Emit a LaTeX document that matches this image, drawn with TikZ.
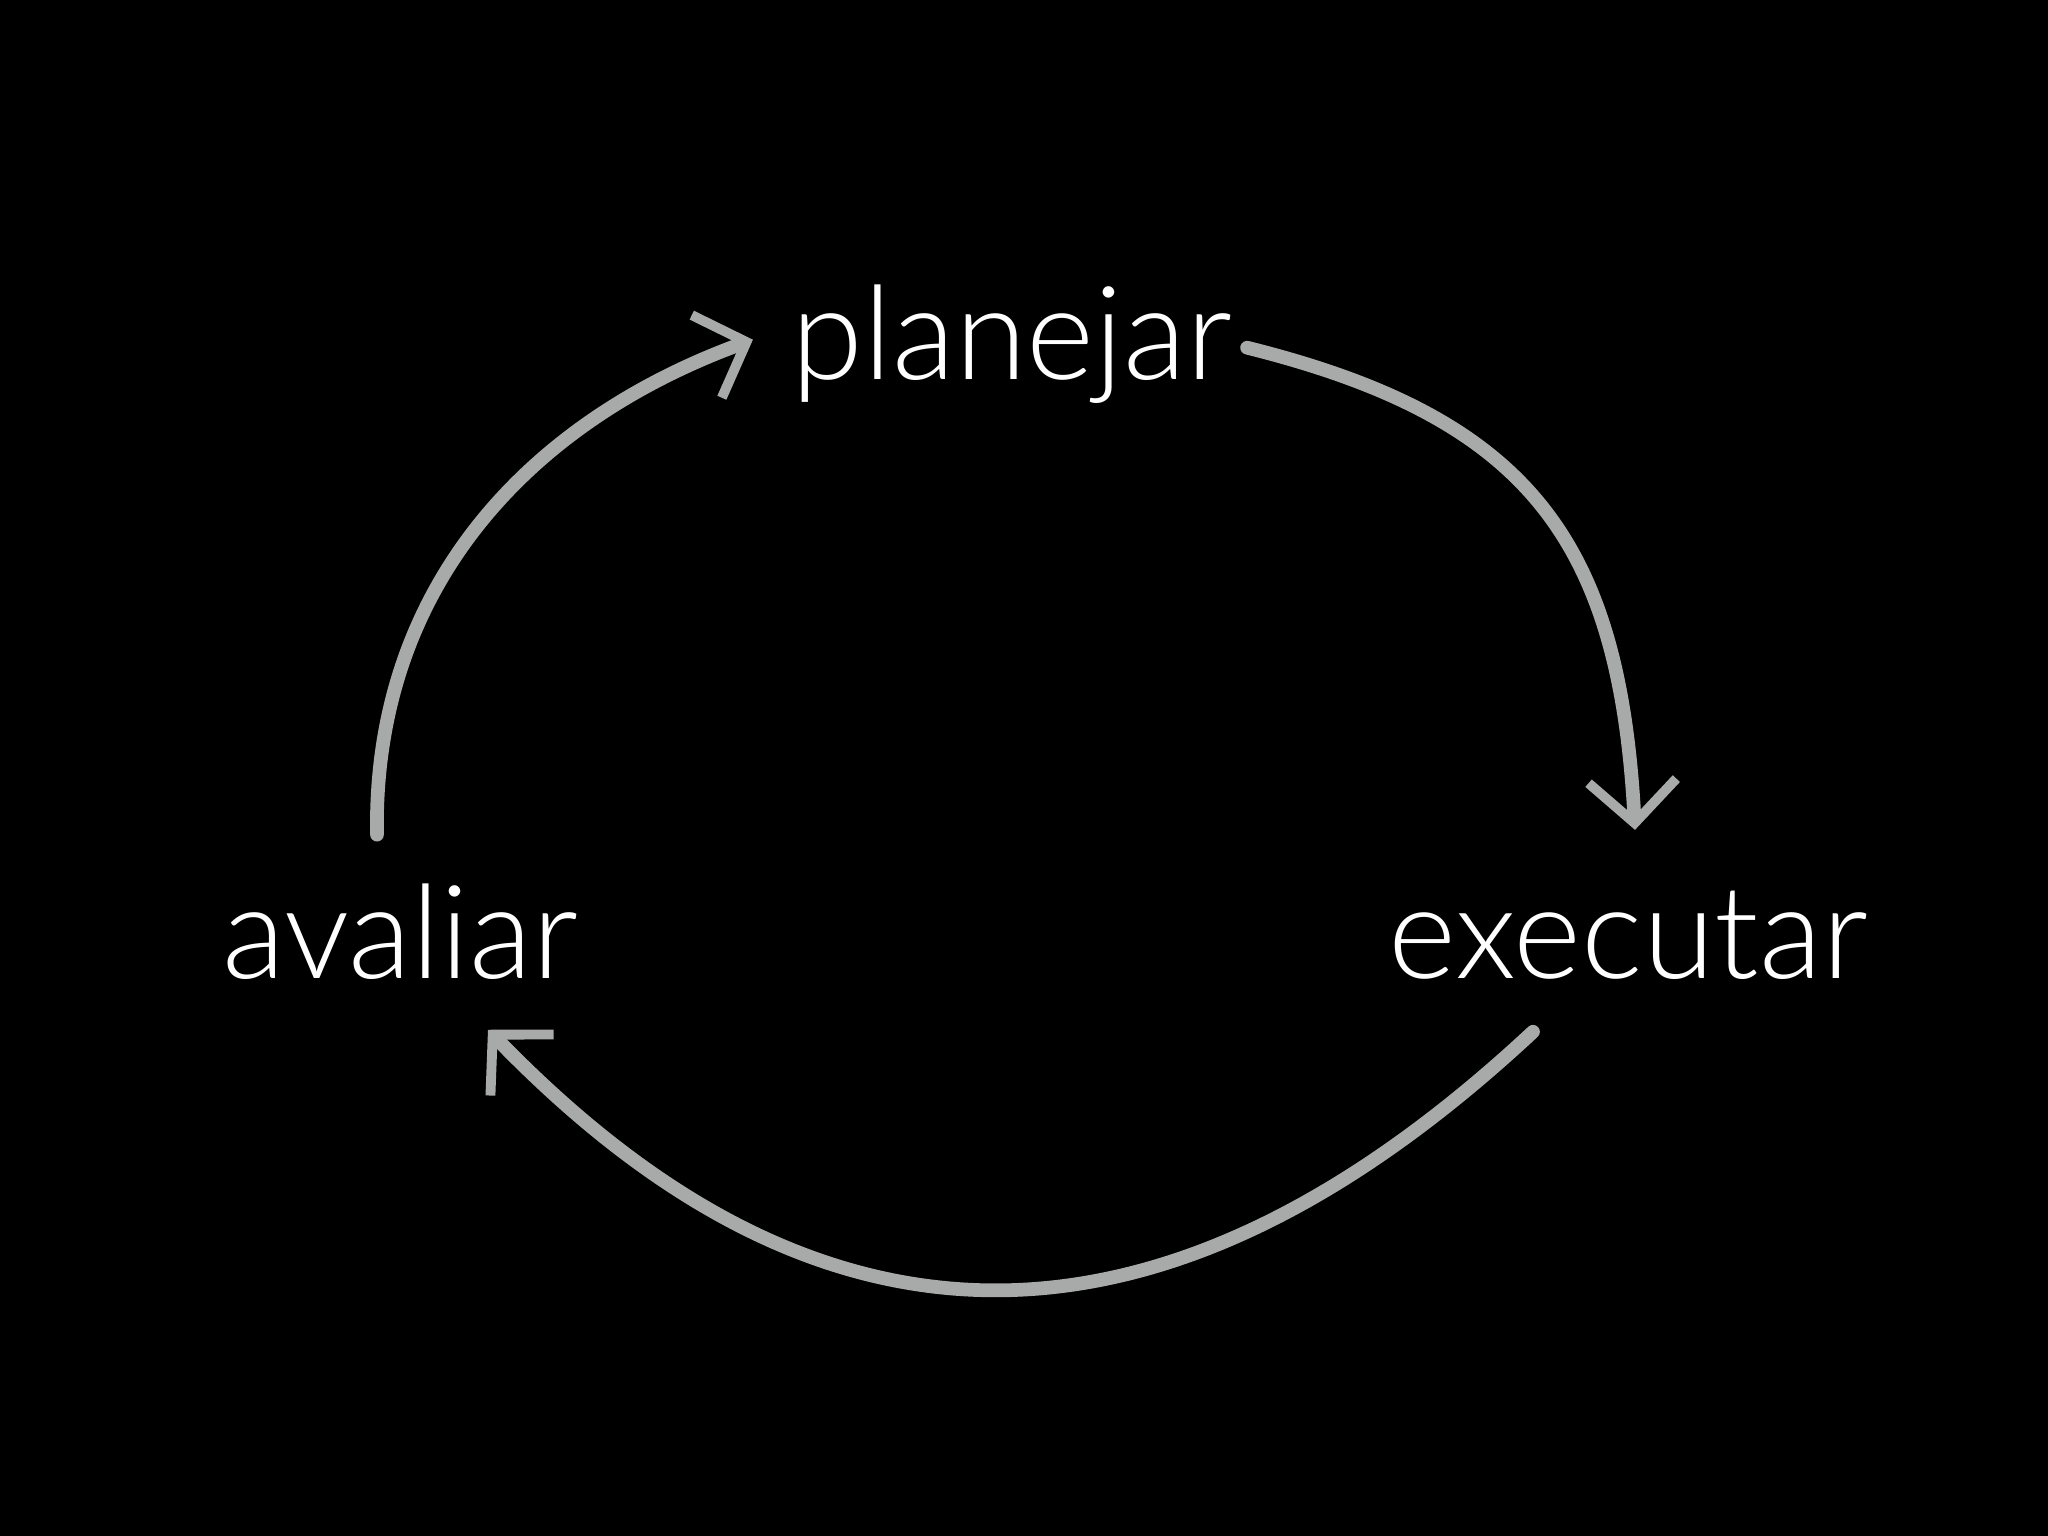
\documentclass[tikz,border=0pt]{standalone}
\usepackage{fontspec}
\setmainfont{Lato Light}
\usepackage{tikz}
\usetikzlibrary{arrows.meta}
\definecolor{brush}{RGB}{168,170,169}

\begin{document}
\begin{tikzpicture}[x=0.01cm,y=-0.01cm,line join=bevel,
  >={Straight Barb[length=12pt,width=25pt,line width=2.8pt]},
  word/.style={text=white,inner sep=0pt,font=\fontsize{37}{44}\selectfont},
  flow/.style={draw=brush,line width=3.9pt,line cap=round,->}]
%%
\fill [black] (0,0) rectangle (2048,1536);
\node (planejar) at (1012,379) [word,anchor=base] {planejar};
\node (executar) at (1628,978) [word,anchor=base] {executar};
\node (avaliar) at (400,978) [word,anchor=base] {avaliar};
\draw [flow] ([shift={(14,4)}]planejar.east) to[out=-14,in=93,looseness=1.2] ([shift={(7,-60)}]executar.north);
\draw [flow] ([shift={(-95,52)}]executar.south) to[out=-137,in=-46,out looseness=1.45,in looseness=0.95] ([shift={(88,50)}]avaliar.south);
\draw [flow] ([shift={(-23,-48)}]avaliar.north) to[out=91,in=-160,looseness=1.0] ([shift={(-38,-4)}]planejar.west);
%
\end{tikzpicture}
\end{document}
